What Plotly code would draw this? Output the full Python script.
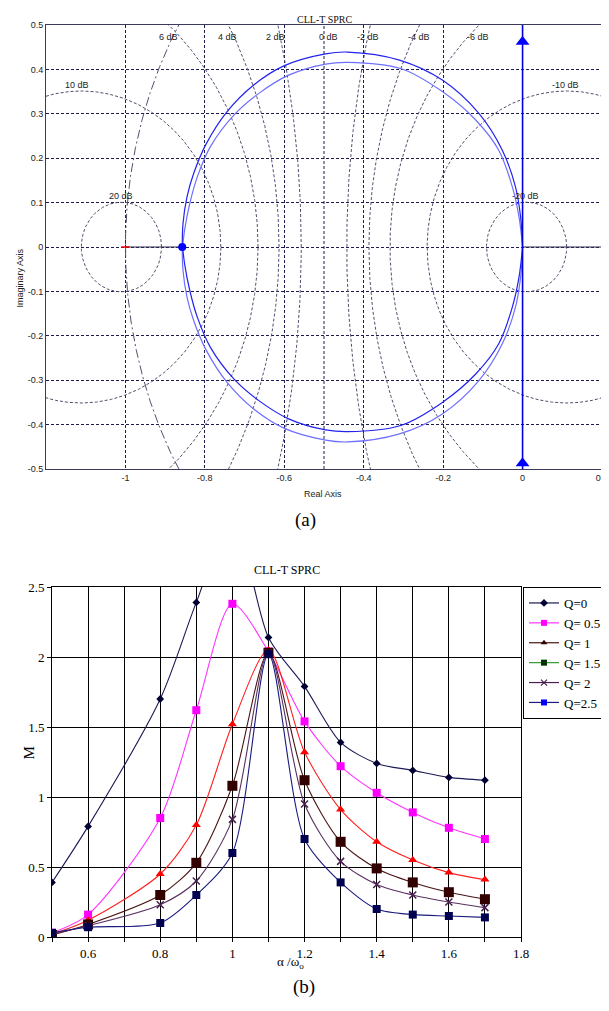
import numpy as np
import plotly.graph_objects as go

# reference canvas size and the page's default 8px body margin
REF_W, REF_H = 609, 1011
OFF = 8
W, H = REF_W - OFF, REF_H - OFF

# ================= (a) Nyquist diagram =================
# dark-blue branch, upper half (left -> right)
nyq_outer_x = [-0.857, -0.855, -0.845, -0.828, -0.798, -0.744, -0.677, -0.601, -0.496, -0.44,
               -0.31, -0.202, -0.110, -0.051, -0.018, -0.005, 0.0]
nyq_outer_y = [0.0, 0.053, 0.113, 0.166, 0.230, 0.305, 0.365, 0.408, 0.435, 0.439,
               0.421, 0.376, 0.301, 0.218, 0.136, 0.068, 0.0]
# light-blue branch, upper half (left -> right)
nyq_inner_x = [-0.856, -0.851, -0.838, -0.819, -0.786, -0.727, -0.664, -0.589, -0.496, -0.44,
               -0.307, -0.202, -0.118, -0.060, -0.026, -0.009, 0.0]
nyq_inner_y = [0.0, 0.038, 0.098, 0.158, 0.226, 0.297, 0.346, 0.387, 0.412, 0.416,
               0.402, 0.350, 0.286, 0.218, 0.136, 0.068, 0.0]

start_point = [-0.857, 0.0]
arrow_y = [0.462, -0.487]
left_axis_seg_x = [-1.0, -0.857]
right_axis_seg_x = [0.0, 0.2]

m_db_values = [-20, -10, -6, -4, -2, 2, 4, 6, 10, 20]
db_labels = ["6 dB", "4 dB", "2 dB", "0 dB", "-2 dB", "-4 dB", "-6 dB",
             "10 dB", "-10 dB", "20 dB", "-20 dB"]
db_label_x = [-0.892, -0.743, -0.622, -0.489, -0.388, -0.262, -0.113, -1.121, 0.108, -1.01, 0.008]
db_label_y = [0.473, 0.473, 0.473, 0.473, 0.473, 0.473, 0.473, 0.365, 0.365, 0.115, 0.115]

a_xticks = [-1.0, -0.8, -0.6, -0.4, -0.2, 0.0, 0.2]
a_xtext = ["-1", "-0.8", "-0.6", "-0.4", "-0.2", "0", "0.2"]
a_yticks = [-0.5, -0.4, -0.3, -0.2, -0.1, 0.0, 0.1, 0.2, 0.3, 0.4, 0.5]
a_ytext = ["-0.5", "-0.4", "-0.3", "-0.2", "-0.1", "0", "0.1", "0.2", "0.3", "0.4", "0.5"]

# ================= (b) gain curves =================
alpha_x = [0.5, 0.6, 0.8, 0.9, 1.0, 1.1, 1.2, 1.3, 1.4, 1.5, 1.6, 1.7]
m_q0 = [0.39, 0.79, 1.70, 2.39, 3.00, 2.14, 1.79, 1.39, 1.24, 1.19, 1.14, 1.12]
m_q05 = [0.03, 0.16, 0.85, 1.62, 2.38, 2.04, 1.54, 1.22, 1.03, 0.89, 0.78, 0.70]
m_q1 = [0.02, 0.12, 0.45, 0.80, 1.52, 2.05, 1.32, 0.91, 0.68, 0.55, 0.46, 0.41]
m_q15 = [0.015, 0.09, 0.30, 0.53, 1.08, 2.03, 1.12, 0.68, 0.49, 0.39, 0.32, 0.27]
m_q2 = [0.02, 0.08, 0.23, 0.40, 0.84, 2.03, 0.95, 0.54, 0.375, 0.30, 0.25, 0.21]
m_q25 = [0.03, 0.07, 0.10, 0.30, 0.60, 2.02, 0.70, 0.39, 0.20, 0.16, 0.15, 0.14]

series_names = ["Q=0", "Q= 0.5", "Q= 1", "Q= 1.5", "Q= 2", "Q=2.5"]
series_values = [m_q0, m_q05, m_q1, m_q15, m_q2, m_q25]
series_line = ["#1a1a55", "#ff33ff", "#ff2020", "#4a1515", "#5a3060", "#1a1a80"]
series_marker = ["#000033", "#ff00ff", "#ff0000", "#330000", "#4a2050", "#000050"]
series_symbol = ["diamond", "square", "triangle-up", "square", "x-thin", "square"]
series_size = [6, 8, 8, 10, 7, 8]

legend_line = ["#1a1a55", "#ff33ff", "#4a1515", "#339933", "#4a2050", "#1a1a80"]
legend_marker = ["#000033", "#ff00ff", "#330000", "#003300", "#4a2050", "#0000ff"]

b_xticks = [0.6, 0.8, 1.0, 1.2, 1.4, 1.6, 1.8]
b_xtext = ["0.6", "0.8", "1", "1.2", "1.4", "1.6", "1.8"]
b_xgrid = [0.5, 0.6, 0.7, 0.8, 0.9, 1.0, 1.1, 1.2, 1.3, 1.4, 1.5, 1.6, 1.7, 1.8]
b_yticks = [0, 0.5, 1.0, 1.5, 2.0, 2.5]
b_ytext = ["0", "0.5", "1", "1.5", "2", "2.5"]


def pxx(x):
    return (x - OFF) / W


def pxy(y):
    return 1 - (y - OFF) / H


fig = go.Figure()

GRIDC = "#1c1c4e"
CIRC = "#50506e"

# M-circles (constant closed-loop magnitude)
theta = np.linspace(0, 2 * np.pi, 1441)
for db in m_db_values:
    M = 10 ** (db / 20)
    c = -M ** 2 / (M ** 2 - 1)
    r = abs(M / (M ** 2 - 1))
    fig.add_trace(go.Scatter(x=c + r * np.cos(theta), y=r * np.sin(theta), mode="lines",
                             line=dict(color=CIRC, width=1, dash="3px,2px"),
                             hoverinfo="skip", showlegend=False, xaxis="x", yaxis="y"))
# 0 dB line
fig.add_trace(go.Scatter(x=[-0.5, -0.5], y=[-0.5, 0.5], mode="lines",
                         line=dict(color=GRIDC, width=1, dash="3px,2px"),
                         hoverinfo="skip", showlegend=False, xaxis="x", yaxis="y"))
# unit circle arc
th2 = np.linspace(np.deg2rad(140), np.deg2rad(220), 400)
fig.add_trace(go.Scatter(x=np.cos(th2), y=np.sin(th2), mode="lines",
                         line=dict(color=CIRC, width=1, dash="9px,3px,2px,3px"),
                         hoverinfo="skip", showlegend=False, xaxis="x", yaxis="y"))

# real-axis segments
for seg in (left_axis_seg_x, right_axis_seg_x):
    fig.add_trace(go.Scatter(x=seg, y=[0, 0], mode="lines",
                             line=dict(color="#2e2e50", width=1.2),
                             hoverinfo="skip", showlegend=False, xaxis="x", yaxis="y"))

# Nyquist branches
dark_x = nyq_outer_x + nyq_inner_x[::-1]
dark_y = nyq_outer_y + [-v for v in nyq_inner_y[::-1]]
light_x = nyq_inner_x + nyq_outer_x[::-1]
light_y = nyq_inner_y + [-v for v in nyq_outer_y[::-1]]
fig.add_trace(go.Scatter(x=light_x, y=light_y, mode="lines",
                         line=dict(color="#6f6fff", width=1.2, shape="spline", smoothing=1.0),
                         hoverinfo="skip", showlegend=False, xaxis="x", yaxis="y"))
fig.add_trace(go.Scatter(x=dark_x, y=dark_y, mode="lines",
                         line=dict(color="#2323f0", width=1.2, shape="spline", smoothing=1.0),
                         hoverinfo="skip", showlegend=False, xaxis="x", yaxis="y"))

# imaginary-axis branch
fig.add_trace(go.Scatter(x=[0, 0], y=[-0.5, 0.5], mode="lines",
                         line=dict(color="#0000dd", width=1.6),
                         hoverinfo="skip", showlegend=False, xaxis="x", yaxis="y"))
fig.add_trace(go.Scatter(x=[0, 0], y=arrow_y, mode="markers",
                         marker=dict(symbol="triangle-up", size=12, color="#0000ff"),
                         hoverinfo="skip", showlegend=False, xaxis="x", yaxis="y", cliponaxis=False))
fig.add_trace(go.Scatter(x=[start_point[0]], y=[start_point[1]], mode="markers",
                         marker=dict(symbol="circle", size=8, color="#0000ff"),
                         hoverinfo="skip", showlegend=False, xaxis="x", yaxis="y"))
fig.add_trace(go.Scatter(x=[-1.0], y=[0.0], mode="markers",
                         marker=dict(symbol="line-ew", size=6, line=dict(color="red", width=1.5)),
                         hoverinfo="skip", showlegend=False, xaxis="x", yaxis="y"))

# ---------- (b) data traces ----------
for name, vals, lc, mc, sym, sz in zip(series_names, series_values, series_line,
                                        series_marker, series_symbol, series_size):
    mk = dict(symbol=sym, size=sz, color=mc)
    if sym == "x-thin":
        mk = dict(symbol=sym, size=sz, color=mc, line=dict(color=mc, width=1.5))
    fig.add_trace(go.Scatter(x=alpha_x, y=vals, mode="lines+markers", name=name,
                             line=dict(color=lc, width=1.1, shape="spline", smoothing=0.8),
                             marker=mk, showlegend=False, xaxis="x2", yaxis="y2"))

# legend entries (as shown in the original legend box)
for name, lc, mc, sym in zip(series_names, legend_line, legend_marker, series_symbol):
    mk = dict(symbol=sym, size=6, color=mc)
    if sym == "x-thin":
        mk = dict(symbol=sym, size=6, color=mc, line=dict(color=mc, width=1.2))
    fig.add_trace(go.Scatter(x=[None], y=[None], mode="lines+markers", name=name,
                             line=dict(color=lc, width=1.2), marker=mk,
                             showlegend=True, xaxis="x2", yaxis="y2"))

sans = "Liberation Sans, Arial, sans-serif"
serif = "Liberation Serif, Times New Roman, serif"

annotations = []
for t, x, y in zip(db_labels, db_label_x, db_label_y):
    annotations.append(dict(text=t, x=x, y=y, xref="x", yref="y", showarrow=False,
                            font=dict(family=sans, size=9, color="#222"), xanchor="center",
                            yanchor="middle"))
annotations += [
    dict(text="CLL-T SPRC", x=pxx(324), y=pxy(12), xref="paper", yref="paper", showarrow=False,
         font=dict(family=serif, size=10, color="#111")),
    dict(text="Real Axis", x=pxx(323), y=pxy(494), xref="paper", yref="paper", showarrow=False,
         font=dict(family=sans, size=9, color="#222")),
    dict(text="Imaginary Axis", x=pxx(12), y=pxy(247), xref="paper", yref="paper",
         showarrow=False, textangle=-90, font=dict(family=sans, size=9, color="#222")),
    dict(text="(a)", x=pxx(305), y=pxy(520), xref="paper", yref="paper", showarrow=False,
         font=dict(family=serif, size=19, color="#000")),
    dict(text="CLL-T SPRC", x=pxx(287), y=pxy(570), xref="paper", yref="paper", showarrow=False,
         font=dict(family=serif, size=12, color="#000")),
    dict(text="M", x=pxx(18), y=pxy(762), xref="paper", yref="paper", showarrow=False,
         textangle=-90, font=dict(family=serif, size=15, color="#000")),
    dict(text="α /ω<sub>o</sub>", x=pxx(290), y=pxy(973), xref="paper", yref="paper",
         showarrow=False, font=dict(family=serif, size=13, color="#000")),
    dict(text="(b)", x=pxx(304), y=pxy(1000), xref="paper", yref="paper", showarrow=False,
         font=dict(family=serif, size=19, color="#000")),
]

fig.update_layout(
    template="none",
    width=W, height=H, autosize=False,
    margin=dict(l=0, r=0, t=0, b=0, pad=0),
    paper_bgcolor="white", plot_bgcolor="white",
    xaxis=dict(domain=[pxx(46), pxx(602)], range=[-1.2, 0.2], tickvals=a_xticks, ticktext=a_xtext,
               showgrid=True, gridcolor=GRIDC, gridwidth=1, griddash="3px,2px", zeroline=False,
               showline=True, mirror=True, linecolor="#3a3a5a", linewidth=1, ticks="",
               tickfont=dict(family=sans, size=9, color="#222"), anchor="y", automargin=False),
    yaxis=dict(domain=[pxy(469), pxy(25)], range=[-0.5, 0.5], tickvals=a_yticks, ticktext=a_ytext,
               showgrid=True, gridcolor=GRIDC, gridwidth=1, griddash="3px,2px", zeroline=False,
               showline=True, mirror=True, linecolor="#3a3a5a", linewidth=1, ticks="",
               tickfont=dict(family=sans, size=9, color="#222"), anchor="x", automargin=False),
    xaxis2=dict(domain=[pxx(52), pxx(521)], range=[0.5, 1.8], tickvals=b_xticks, ticktext=b_xtext,
                showgrid=True, gridcolor="#000", gridwidth=1, zeroline=False,
                showline=True, mirror=True, linecolor="#000", linewidth=1,
                ticks="outside", ticklen=4, tickcolor="#000",
                minor=dict(tickvals=b_xgrid, showgrid=True, gridcolor="#000", gridwidth=1,
                           ticks="outside", ticklen=4, tickcolor="#000"),
                tickfont=dict(family=serif, size=13, color="#000"), anchor="y2", automargin=False),
    yaxis2=dict(domain=[pxy(937), pxy(587)], range=[0, 2.5], tickvals=b_yticks, ticktext=b_ytext,
                showgrid=True, gridcolor="#000", gridwidth=1, zeroline=False,
                showline=True, mirror=True, linecolor="#000", linewidth=1,
                ticks="outside", ticklen=4, tickcolor="#000",
                tickfont=dict(family=serif, size=13, color="#000"), anchor="x2", automargin=False),
    legend=dict(x=pxx(607), y=pxy(587), xanchor="right", yanchor="top",
                bgcolor="white", bordercolor="#000", borderwidth=1,
                font=dict(family=serif, size=13, color="#000"),
                itemwidth=30, tracegroupgap=0),
    annotations=annotations,
    showlegend=True,
)

fig.write_html("out.html")
